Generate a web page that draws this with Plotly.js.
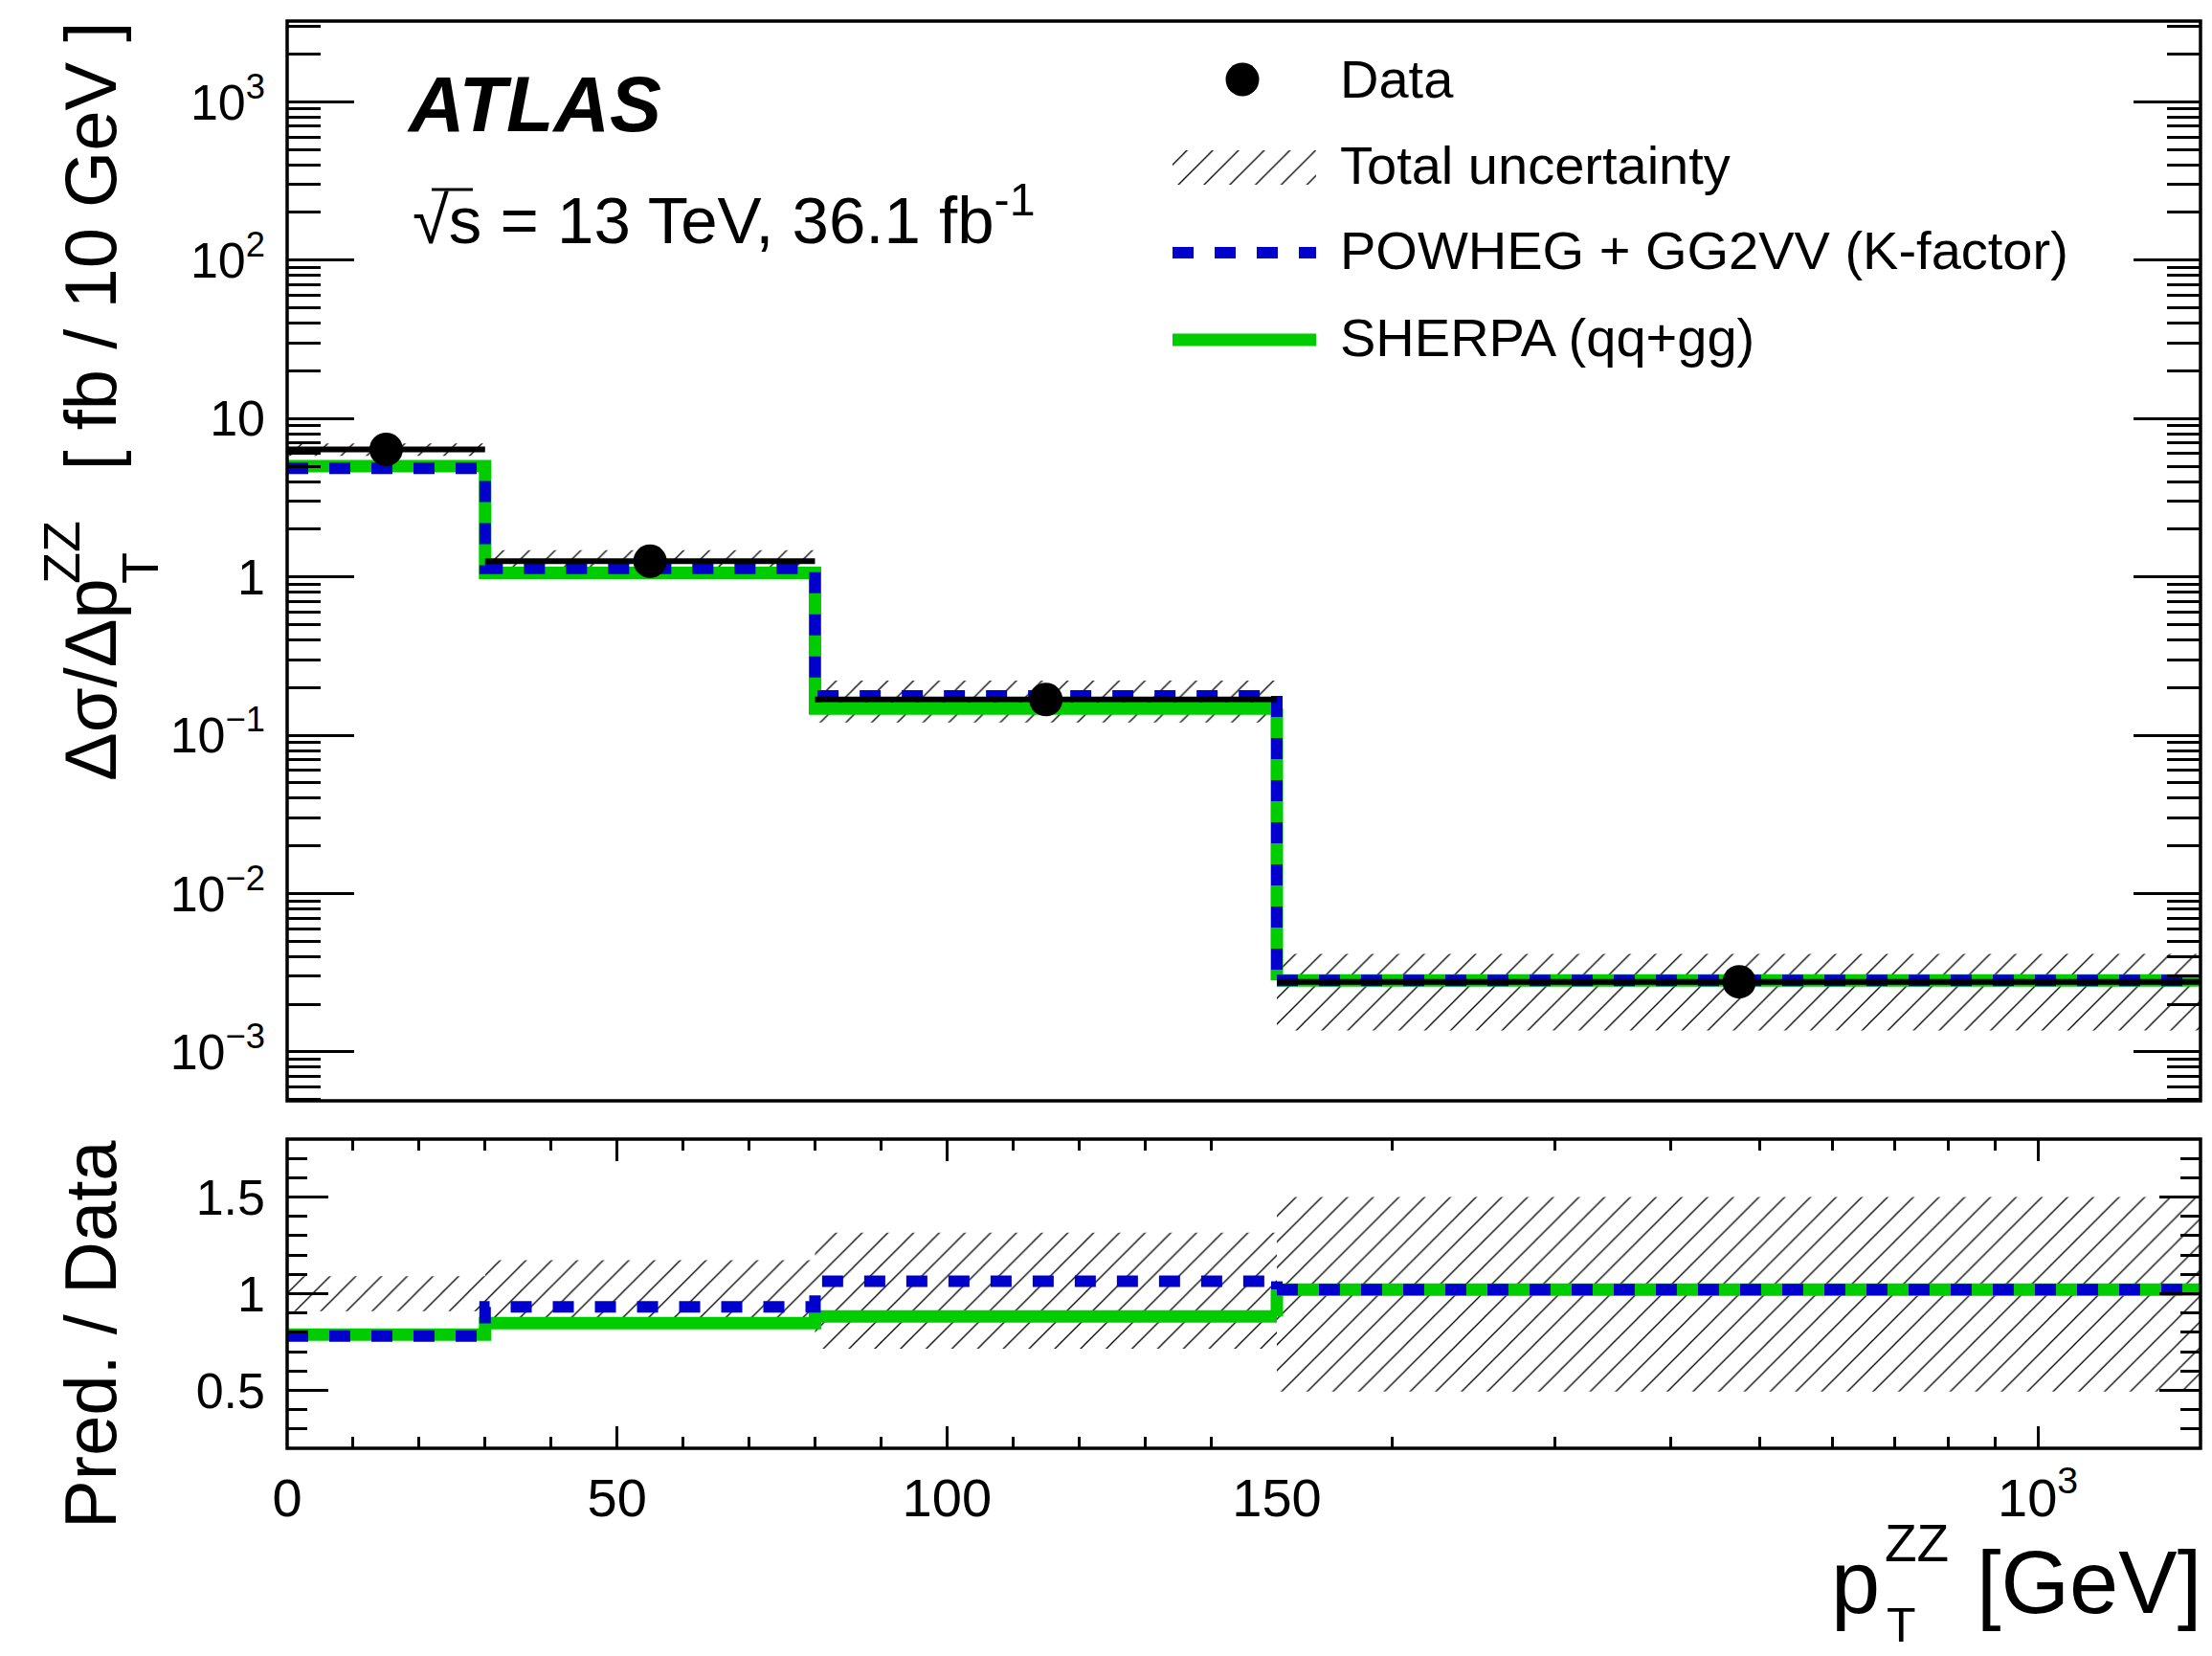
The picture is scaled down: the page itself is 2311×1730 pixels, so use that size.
<!DOCTYPE html>
<html>
<head>
<meta charset="utf-8">
<script src="https://cdn.plot.ly/plotly-3.0.1.min.js"></script>
<style>
  html, body { margin: 0; padding: 0; background: #fff; }
  #plot { width: 2311px; height: 1730px; }
</style>
</head>
<body>
<div id="plot"></div>
<script>
// ZZ transverse-momentum differential cross section with ratio panel.
// Bin edges in GeV; the last bin is shown on a logarithmic scale.
const binEdges = [0, 30, 80, 150, 1500];
const binCentres = [15, 55, 115, 475];

// Measured cross section [fb / 10 GeV] and relative total uncertainty
const dataXsec = [6.38, 1.256, 0.168, 0.00277];
const totUncUp = [0.09, 0.173, 0.316, 0.50];
const totUncDown = [0.09, 0.173, 0.285, 0.507];

// Predictions [fb / 10 GeV]
const powhegXsec = [4.85, 1.13, 0.177, 0.00283];
const sherpaXsec = [5.0, 1.06, 0.147, 0.00283];

// Prediction / data ratios
const powhegRatio = [0.781, 0.932, 1.064, 1.021];
const sherpaRatio = [0.788, 0.848, 0.882, 1.021];

// Axis tick labels
const yMainTickVals = [1e-3, 1e-2, 1e-1, 1, 10, 100, 1000];
const yMainTickText = ['10<sup>\u22123</sup>', '10<sup>\u22122</sup>', '10<sup>\u22121</sup>', '1', '10', '10<sup>2</sup>', '10<sup>3</sup>'];
const yRatioTickVals = [0.5, 1, 1.5];
const yRatioTickText = ['0.5', '1', '1.5'];
const xLinTickVals = [0, 50, 100, 150];
const xLinTickText = ['0', '50', '100', '150'];
const xLogTickVals = [1000];
const xLogTickText = ['10<sup>3</sup>'];

const W = 2311, H = 1730;
const FONT = 'Liberation Sans, Arial, Helvetica, sans-serif';
const BLUE = 'rgb(0,0,204)';
const GREEN = 'rgb(0,204,0)';
const px = x => x / W;
const py = y => 1 - y / H;

const LOW = [0, 1, 2];   // bins on the linear part of the axis
const HIGH = [3];        // bin on the logarithmic part

// minor ticks for the log y axis
const yMinor = [];
for (let k = -4; k <= 3; k++) for (let m = 2; m <= 9; m++) yMinor.push(m * Math.pow(10, k));
const xLogMinor = [200, 300, 400, 500, 600, 700, 800, 900];

const hatch = { shape: '/', size: 19, solidity: 0.07, fgcolor: '#000', bgcolor: 'rgba(0,0,0,0)', fgopacity: 1 };

function bandTrace(idx, lo, hi, xa, ya) {
  const x = [], y = [];
  idx.forEach(i => {
    x.push(binEdges[i], binEdges[i + 1], binEdges[i + 1], binEdges[i], binEdges[i], null);
    y.push(lo[i], lo[i], hi[i], hi[i], lo[i], null);
  });
  return { type: 'scatter', mode: 'lines', x, y, xaxis: xa, yaxis: ya, fill: 'toself',
           fillcolor: 'rgba(0,0,0,0)', fillpattern: hatch, line: { width: 0, color: 'rgba(0,0,0,0)' },
           hoverinfo: 'skip', showlegend: false };
}

function stepTraces(vals, style, axLow, axHigh) {
  const line = Object.assign({ shape: 'hv' }, style);
  const out = [];
  // bins on the linear part
  out.push({ type: 'scatter', mode: 'lines', xaxis: axLow[0], yaxis: axLow[1],
             x: [binEdges[0], binEdges[1], binEdges[2], binEdges[3]],
             y: [vals[0], vals[1], vals[2], vals[2]], line, hoverinfo: 'skip' });
  // step at 150 GeV, drawn on both sides of the axis break
  [axLow, axHigh].forEach(ax => {
    out.push({ type: 'scatter', mode: 'lines', xaxis: ax[0], yaxis: ax[1],
               x: [binEdges[3], binEdges[3]], y: [vals[2], vals[3]],
               line: Object.assign({}, style), hoverinfo: 'skip' });
  });
  // last bin
  out.push({ type: 'scatter', mode: 'lines', xaxis: axHigh[0], yaxis: axHigh[1],
             x: [binEdges[3], binEdges[4]], y: [vals[3], vals[3]],
             line: Object.assign({}, style), hoverinfo: 'skip' });
  return out;
}

function dataTrace(idx, xa, ya) {
  return { type: 'scatter', mode: 'markers', xaxis: xa, yaxis: ya,
           x: idx.map(i => binCentres[i]), y: idx.map(i => dataXsec[i]),
           marker: { size: 35, color: '#000', line: { width: 0 } },
           error_x: { type: 'data', symmetric: false,
                      array: idx.map(i => binEdges[i + 1] - binCentres[i]),
                      arrayminus: idx.map(i => binCentres[i] - binEdges[i]),
                      thickness: 6, width: 0, color: '#000' },
           hoverinfo: 'skip' };
}

const bandLoMain = dataXsec.map((v, i) => v * (1 - totUncDown[i]));
const bandHiMain = dataXsec.map((v, i) => v * (1 + totUncUp[i]));
const bandLoRatio = totUncDown.map(u => 1 - u);
const bandHiRatio = totUncUp.map(u => 1 + u);

const greenStyle = { color: GREEN, width: 13 };
const blueStyle = { color: BLUE, width: 12, dash: '22px,22px' };

const traces = [];
// main panel
traces.push(bandTrace(LOW, bandLoMain, bandHiMain, 'x', 'y'));
traces.push(bandTrace(HIGH, bandLoMain, bandHiMain, 'x2', 'y2'));
traces.push(...stepTraces(sherpaXsec, greenStyle, ['x', 'y'], ['x2', 'y2']));
traces.push(...stepTraces(powhegXsec, blueStyle, ['x', 'y'], ['x2', 'y2']));
traces.push(dataTrace(LOW, 'x', 'y'));
traces.push(dataTrace(HIGH, 'x2', 'y2'));
// ratio panel
traces.push(bandTrace(LOW, bandLoRatio, bandHiRatio, 'x3', 'y3'));
traces.push(bandTrace(HIGH, bandLoRatio, bandHiRatio, 'x4', 'y4'));
traces.push(...stepTraces(sherpaRatio, greenStyle, ['x3', 'y3'], ['x4', 'y4']));
traces.push(...stepTraces(powhegRatio, blueStyle, ['x3', 'y3'], ['x4', 'y4']));

// legend keys, placed on a pixel-coordinate overlay
traces.push({ type: 'scatter', mode: 'markers', xaxis: 'x5', yaxis: 'y5', x: [1298], y: [83],
              marker: { size: 35, color: '#000' }, hoverinfo: 'skip' });
traces.push({ type: 'scatter', mode: 'lines', xaxis: 'x5', yaxis: 'y5',
              x: [1225, 1375, 1375, 1225, 1225], y: [157, 157, 193, 193, 157], fill: 'toself',
              fillcolor: 'rgba(0,0,0,0)', fillpattern: hatch, line: { width: 0, color: 'rgba(0,0,0,0)' }, hoverinfo: 'skip' });
traces.push({ type: 'scatter', mode: 'lines', xaxis: 'x5', yaxis: 'y5', x: [1225, 1375], y: [264, 264],
              line: blueStyle, hoverinfo: 'skip' });
traces.push({ type: 'scatter', mode: 'lines', xaxis: 'x5', yaxis: 'y5', x: [1225, 1375], y: [355, 355],
              line: greenStyle, hoverinfo: 'skip' });

const xLowDom = [px(300), px(1334)];
const xHighDom = [px(1334), px(2299)];
const yMainDom = [py(1150), py(22)];
const yRatioDom = [py(1513), py(1190)];
const yMainRange = [-3.309, 3.51];
const xLogRange = [Math.log10(150), Math.log10(1500)];

const tickFontY = { family: FONT, size: 52, color: '#000' };
const tickFontX = { family: FONT, size: 56, color: '#000' };
const bare = { showgrid: false, zeroline: false, showline: false, fixedrange: true };

const layout = {
  width: W, height: H,
  margin: { l: 0, r: 0, t: 0, b: 0, pad: 0 },
  paper_bgcolor: '#fff', plot_bgcolor: 'rgba(0,0,0,0)',
  font: { family: FONT, color: '#000' },
  showlegend: false,
  xaxis: Object.assign({}, bare, { domain: xLowDom, range: [0, 150], anchor: 'y', showticklabels: false, ticks: '' }),
  xaxis2: Object.assign({}, bare, { domain: xHighDom, type: 'log', range: xLogRange, anchor: 'y2', showticklabels: false, ticks: '' }),
  yaxis: Object.assign({}, bare, { domain: yMainDom, type: 'log', range: yMainRange, anchor: 'x',
           tickmode: 'array', tickvals: yMainTickVals, ticktext: yMainTickText, ticks: 'inside', ticklen: 70, tickwidth: 3,
           tickcolor: '#000', tickfont: tickFontY, ticklabelstandoff: 22,
           minor: { tickmode: 'array', tickvals: yMinor, ticks: 'inside', ticklen: 35, tickwidth: 3, tickcolor: '#000', showgrid: false } }),
  yaxis2: Object.assign({}, bare, { domain: yMainDom, type: 'log', range: yMainRange, anchor: 'x2', side: 'right',
           tickmode: 'array', tickvals: yMainTickVals, showticklabels: false, ticks: 'inside', ticklen: 70, tickwidth: 3, tickcolor: '#000',
           minor: { tickmode: 'array', tickvals: yMinor, ticks: 'inside', ticklen: 35, tickwidth: 3, tickcolor: '#000', showgrid: false } }),
  xaxis3: Object.assign({}, bare, { domain: xLowDom, range: [0, 150], anchor: 'y3',
           tickmode: 'array', tickvals: xLinTickVals, ticktext: xLinTickText, ticks: 'inside', ticklen: 23, tickwidth: 3,
           tickcolor: '#000', mirror: 'ticks', tickfont: tickFontX, ticklabelstandoff: 14,
           minor: { dtick: 10, tick0: 0, ticks: 'inside', ticklen: 12, tickwidth: 3, tickcolor: '#000', showgrid: false } }),
  xaxis4: Object.assign({}, bare, { domain: xHighDom, type: 'log', range: xLogRange, anchor: 'y4',
           tickmode: 'array', tickvals: xLogTickVals, ticktext: xLogTickText, ticks: 'inside', ticklen: 23, tickwidth: 3,
           tickcolor: '#000', mirror: 'ticks', tickfont: tickFontX, ticklabelstandoff: 14,
           minor: { tickmode: 'array', tickvals: xLogMinor, ticks: 'inside', ticklen: 12, tickwidth: 3, tickcolor: '#000', showgrid: false } }),
  yaxis3: Object.assign({}, bare, { domain: yRatioDom, range: [0.2, 1.8], anchor: 'x3',
           tickmode: 'array', tickvals: yRatioTickVals, ticktext: yRatioTickText, ticks: 'inside', ticklen: 43, tickwidth: 3,
           tickcolor: '#000', tickfont: tickFontY, ticklabelstandoff: 22,
           minor: { dtick: 0.1, tick0: 0, ticks: 'inside', ticklen: 21, tickwidth: 3, tickcolor: '#000', showgrid: false } }),
  yaxis4: Object.assign({}, bare, { domain: yRatioDom, range: [0.2, 1.8], anchor: 'x4', side: 'right',
           tickmode: 'array', tickvals: yRatioTickVals, showticklabels: false, ticks: 'inside', ticklen: 43, tickwidth: 3, tickcolor: '#000',
           minor: { dtick: 0.1, tick0: 0, ticks: 'inside', ticklen: 21, tickwidth: 3, tickcolor: '#000', showgrid: false } }),
  xaxis5: { domain: [0, 1], range: [0, W], anchor: 'y5', visible: false, fixedrange: true },
  yaxis5: { domain: [0, 1], range: [H, 0], anchor: 'x5', visible: false, fixedrange: true },
  shapes: [
    { type: 'rect', xref: 'paper', yref: 'paper', x0: px(300), x1: px(2299), y0: py(1150), y1: py(22),
      line: { color: '#000', width: 3.5 }, fillcolor: 'rgba(0,0,0,0)' },
    { type: 'rect', xref: 'paper', yref: 'paper', x0: px(300), x1: px(2299), y0: py(1513), y1: py(1190),
      line: { color: '#000', width: 3.5 }, fillcolor: 'rgba(0,0,0,0)' },
    // bar of the square-root sign
    { type: 'line', xref: 'paper', yref: 'paper', x0: px(451), x1: px(494), y0: py(198), y1: py(198),
      line: { color: '#000', width: 3 } }
  ],
  annotations: []
};

function label(text, x, y, size, opts) {
  layout.annotations.push(Object.assign({
    text, xref: 'paper', yref: 'paper', x: px(x), y: py(y), showarrow: false,
    xanchor: 'left', yanchor: 'middle', font: { family: FONT, size, color: '#000' }, borderpad: 0
  }, opts || {}));
}

// experiment label
label('<b><i>ATLAS</i></b>', 424, 109, 81);
label('\u221As = 13 TeV, 36.1 fb<sup>-1</sup>', 430, 270, 69, { yanchor: 'bottom' });

// legend text
label('Data', 1399, 83, 56);
label('Total uncertainty', 1399, 172, 56);
label('POWHEG + GG2VV (K-factor)', 1399, 262, 56);
label('SHERPA (qq+gg)', 1399, 352, 56);

// y-axis title, main panel
label('[ fb / 10 GeV ]', 94, 22, 76, { textangle: -90, xanchor: 'center', yanchor: 'top' });
label('\u0394\u03c3/\u0394p', 94, 817, 76, { textangle: -90, xanchor: 'center', yanchor: 'bottom' });
label('ZZ', 64, 577, 54, { textangle: -90, xanchor: 'center', yanchor: 'middle' });
label('T', 146, 594, 54, { textangle: -90, xanchor: 'center', yanchor: 'middle' });

// y-axis title, ratio panel
label('Pred. / Data', 94, 1190, 76, { textangle: -90, xanchor: 'center', yanchor: 'top' });

// x-axis title
label('[GeV]', 2301, 1653, 92, { xanchor: 'right' });
label('p', 1912, 1653, 92);
label('ZZ', 1968, 1612, 55);
label('T', 1970, 1698, 50);

Plotly.newPlot('plot', traces, layout, { staticPlot: true, displayModeBar: false });
</script>
</body>
</html>
